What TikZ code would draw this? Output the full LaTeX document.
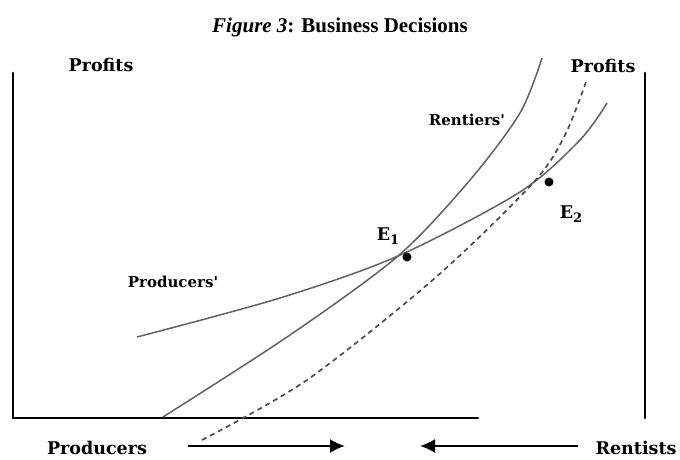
\documentclass[tikz,border=0pt]{standalone}
\usepackage{fontspec}
\setmainfont{Liberation Serif}
\newfontfamily\lblfont{DejaVu Serif}
\usetikzlibrary{arrows.meta}
\usetikzlibrary{calc}
\colorlet{crvgray}{black!62}
\colorlet{dshgray}{black!70}
\newcommand{\sub}[1]{\raisebox{-3.5pt}{\fontsize{13}{13}\selectfont #1}}
\tikzset{axis/.style={
  line width=2.8pt,
  line cap=round
}}
\tikzset{crv/.style={draw=crvgray,line width=1.5pt}}
\tikzset{dsh/.style={draw=dshgray,line width=1.7pt,dash pattern=on 5pt off 4pt}}
\tikzset{flow/.style={line width=2.2pt,-{Latex[length=15pt,width=14pt]}}}
\tikzset{lbl/.style={font=\lblfont\bfseries\fontsize{17.5}{18}\selectfont,inner sep=0pt}}
\tikzset{sml/.style={font=\lblfont\bfseries\fontsize{15}{16}\selectfont,inner sep=0pt}}
\tikzset{eqdot/.style={circle,fill=black,inner sep=0pt,minimum size=9pt}}

\begin{document}
\begin{tikzpicture}[x=1pt,y=-1pt]
    \useasboundingbox (0,0) rectangle (680,460);
    \node[font=\fontsize{21}{21}\selectfont\bfseries] (title) at (340,27)
      {\textit{Figure 3}: Business Decisions};
    % axes
    \coordinate (lt) at (13,73);
    \coordinate (lb) at (13,418);
    \coordinate (br) at (478,418);
    \coordinate (rt) at (645,73);
    \coordinate (rb) at (645,418);
    \draw[axis] (lt) -- (lb) -- (br);
    \draw[axis] (rt) -- (rb);
    \node[lbl] (profl) at (101,65) {Profits};
    \node[lbl] (profr) at (603,66) {Profits};
    % curves
    \draw[crv] plot[smooth] coordinates {(163,417) (290,335) (398,256)
      (470,180) (520,113) (542,58)};
    \draw[crv] plot[smooth] coordinates {(137,337) (280,298) (398,256)
      (520,192) (580,140) (607,103)};
    \draw[dsh] plot[smooth] coordinates {(202,440) (307,380) (435,278)
      (533,183) (565,135) (586,82)};
    \node[sml] (rent) at (467,120) {Rentiers'};
    \node[sml] (prod) at (173,282) {Producers'};
    \node[eqdot] (D1) at (407,257) {};
    \node[eqdot] (D2) at (549,182) {};
    \node[lbl] (E1) at (388,236) {E\sub{1}};
    \node[lbl] (E2) at (571,214) {E\sub{2}};
    % directions
    \node[lbl] (prodx) at (97,448) {Producers};
    \node[lbl] (rentx) at (636,448) {Rentists};
    \coordinate (pa) at (188,446);
    \coordinate (pb) at (345,446);
    \coordinate (ra) at (578,446);
    \coordinate (rb2) at (420,446);
    \draw[flow] (pa) -- (pb);
    \draw[flow] (ra) -- (rb2);
  \end{tikzpicture}
\end{document}
